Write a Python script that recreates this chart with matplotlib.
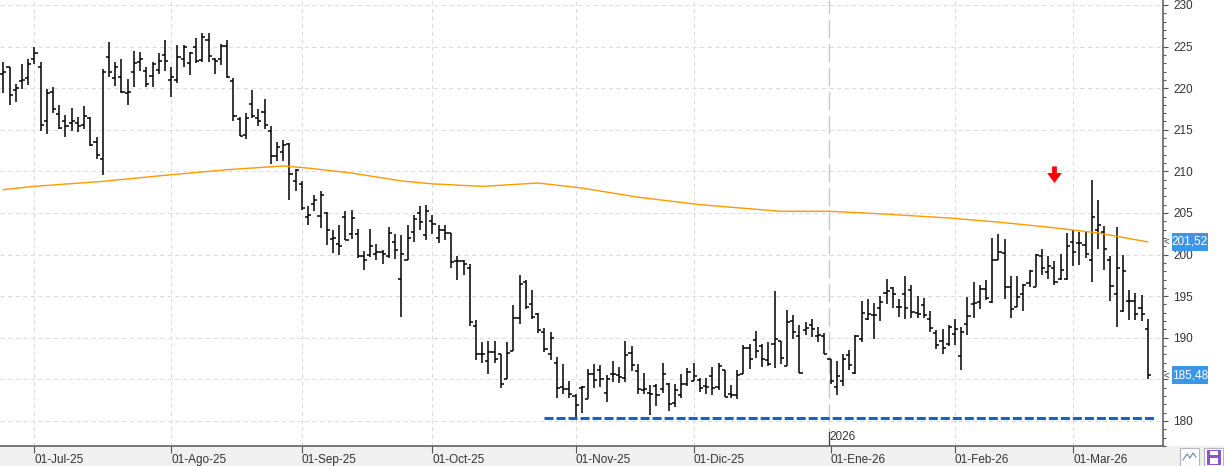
import pandas as pd
import matplotlib
matplotlib.use("Agg")
import matplotlib.pyplot as plt
from matplotlib.collections import LineCollection
from matplotlib.patches import Rectangle
from matplotlib.ticker import MultipleLocator
import matplotlib.transforms as mtransforms

plt.rcParams['font.family'] = ['Liberation Sans', 'DejaVu Sans']

# daily bars, US trading days from 24-Jun-2025
start_date = "2025-06-24"
holidays = ["2025-07-04", "2025-09-01", "2025-11-27", "2025-12-25",
            "2026-01-01", "2026-01-19", "2026-02-16"]

opens = [221.7, 222.6, 219.8, 220.9, 221.2, 223.5, 222.6, 216.0, 219.5, 216.9,
         216.1, 215.8, 215.8, 215.6, 216.4, 213.5, 211.5, 223.8, 221.2, 221.4,
         219.4, 221.9, 223.2, 222.1, 221.5, 222.2, 224.0, 221.0, 221.0, 223.5,
         223.0, 224.9, 223.4, 225.8, 223.5, 223.5, 225.1, 220.9, 216.3, 214.4,
         218.1, 216.4, 217.1, 214.9, 211.9, 212.3, 213.3, 208.8, 208.5, 204.5,
         206.1, 204.6, 205.0, 201.9, 201.3, 204.5, 202.5, 202.5, 199.8, 199.9,
         200.1, 200.3, 199.8, 201.5, 197.1, 199.4, 202.7, 205.0, 202.4, 204.0,
         202.0, 203.0, 202.6, 199.2, 199.2, 198.4, 191.4, 188.0, 187.2, 188.3,
         188.0, 185.0, 188.4, 192.4, 196.7, 194.0, 192.9, 190.7, 188.1, 187.0,
         184.1, 183.9, 183.0, 184.0, 182.6, 185.6, 186.1, 183.4, 185.6, 185.5,
         185.2, 188.2, 186.0, 183.7, 183.4, 184.2, 183.8, 184.5, 182.1, 183.1,
         184.5, 184.8, 184.9, 184.2, 185.4, 184.1, 186.1, 183.2, 183.1, 185.6,
         188.8, 189.7, 189.0, 187.3, 189.2, 189.6, 186.6, 192.0, 190.2, 190.9,
         191.5, 190.2, 190.2, 187.5, 184.1, 184.8, 187.9, 185.8, 189.9, 192.3,
         192.7, 193.6, 195.4, 196.0, 193.7, 195.3, 195.7, 193.0, 193.9, 192.3,
         190.6, 189.6, 189.2, 190.5, 187.8, 191.7, 194.0, 194.3, 195.9, 194.3,
         199.4, 200.2, 196.1, 193.7, 195.3, 196.6, 196.1, 199.8, 197.9, 198.4,
         197.1, 197.1, 201.5, 201.4, 201.1, 199.4, 202.9, 202.7, 199.4, 195.3,
         193.2, 194.4, 194.4, 193.6, 191.0]
highs = [223.2, 222.6, 220.5, 222.9, 223.5, 225.0, 223.2, 219.9, 220.2, 218.0,
         216.8, 217.6, 216.5, 217.9, 216.5, 214.1, 222.3, 225.6, 223.2, 223.5,
         221.1, 224.5, 224.4, 222.6, 223.1, 224.2, 225.8, 222.6, 225.2, 225.2,
         224.4, 226.0, 226.6, 226.6, 223.6, 225.3, 225.8, 221.2, 216.5, 217.0,
         219.8, 217.5, 218.7, 215.4, 213.5, 213.8, 213.4, 210.3, 208.8, 205.8,
         207.2, 207.7, 205.1, 202.9, 203.5, 205.2, 205.4, 203.1, 200.4, 203.1,
         201.3, 200.6, 203.3, 202.5, 202.4, 203.6, 204.7, 205.8, 206.0, 204.8,
         203.5, 203.6, 202.6, 199.8, 199.4, 198.9, 192.1, 189.5, 189.6, 189.6,
         188.1, 189.5, 193.9, 197.6, 197.0, 195.8, 193.0, 191.2, 190.7, 187.7,
         186.8, 184.8, 183.2, 184.2, 186.3, 186.8, 186.7, 185.5, 187.2, 186.5,
         189.6, 189.0, 186.8, 185.8, 184.3, 184.4, 187.0, 184.6, 184.4, 185.6,
         186.4, 187.0, 185.2, 185.2, 186.5, 187.0, 186.1, 184.3, 186.1, 189.1,
         189.2, 190.8, 189.2, 189.5, 195.6, 189.6, 193.3, 192.7, 191.5, 191.9,
         192.2, 191.3, 190.6, 187.5, 187.2, 188.1, 188.5, 190.3, 194.4, 194.6,
         194.2, 195.0, 197.1, 196.1, 194.7, 197.4, 196.4, 195.0, 194.8, 193.2,
         190.9, 191.1, 191.5, 192.3, 191.3, 194.9, 196.7, 196.3, 196.9, 202.0,
         202.5, 201.9, 197.4, 197.4, 196.5, 198.1, 200.1, 200.7, 199.8, 199.2,
         200.1, 202.6, 202.9, 202.7, 202.7, 209.0, 206.5, 203.4, 199.8, 203.3,
         200.0, 195.7, 195.4, 195.2, 192.3]
lows = [219.4, 218.0, 218.3, 219.9, 220.4, 222.9, 214.8, 214.5, 217.0, 215.1,
        214.1, 214.9, 214.7, 215.1, 213.1, 211.5, 209.6, 221.3, 220.3, 219.4,
        218.0, 220.1, 222.1, 220.1, 220.1, 221.7, 222.1, 219.0, 220.6, 222.5,
        221.6, 223.0, 223.2, 223.2, 221.7, 222.8, 221.2, 216.1, 214.2, 213.9,
        216.4, 215.4, 215.1, 210.9, 211.3, 211.2, 206.5, 207.6, 205.3, 203.6,
        205.2, 203.2, 201.2, 200.2, 200.0, 201.8, 201.9, 199.6, 198.1, 199.7,
        199.4, 198.9, 199.6, 199.5, 192.5, 199.3, 201.5, 203.0, 201.7, 202.5,
        201.4, 201.7, 198.4, 197.0, 197.5, 191.4, 187.3, 187.0, 185.6, 187.0,
        184.0, 185.0, 188.4, 191.6, 193.4, 192.2, 190.6, 188.3, 187.3, 182.8,
        183.3, 182.7, 180.4, 181.0, 182.6, 184.0, 184.1, 182.3, 184.7, 184.6,
        184.7, 186.0, 183.2, 183.2, 180.7, 181.8, 183.4, 181.2, 181.7, 182.7,
        184.2, 184.8, 183.5, 183.2, 183.1, 183.7, 182.9, 182.7, 182.6, 185.6,
        186.2, 187.6, 186.5, 186.6, 186.4, 186.8, 186.6, 189.8, 185.8, 190.3,
        190.1, 189.5, 188.0, 184.4, 183.1, 184.2, 186.1, 185.6, 189.5, 192.1,
        189.8, 192.0, 194.0, 193.6, 192.5, 192.3, 192.4, 192.4, 192.4, 190.7,
        188.7, 188.0, 189.0, 189.1, 186.1, 190.3, 192.4, 193.5, 194.5, 194.2,
        199.3, 194.7, 192.4, 193.7, 193.2, 196.1, 196.1, 197.6, 197.1, 196.3,
        197.0, 196.9, 198.6, 198.7, 199.6, 196.7, 200.7, 198.1, 194.4, 191.3,
        193.1, 192.1, 192.1, 192.0, 185.0]
closes = [222.0, 219.2, 220.0, 221.0, 222.9, 224.2, 215.6, 219.4, 217.5, 215.2,
          215.5, 216.0, 215.4, 216.7, 213.2, 212.0, 221.9, 221.9, 222.5, 219.5,
          219.6, 223.0, 223.5, 220.5, 222.9, 223.3, 223.3, 221.4, 223.8, 225.0,
          224.2, 223.3, 226.2, 223.9, 223.3, 225.1, 221.3, 216.6, 214.2, 216.4,
          216.7, 216.0, 215.6, 211.9, 212.9, 213.2, 209.7, 210.2, 205.6, 204.8,
          206.5, 207.2, 203.0, 202.0, 201.0, 201.8, 204.4, 199.8, 199.4, 201.0,
          200.3, 200.1, 202.6, 200.6, 200.1, 202.0, 204.3, 203.9, 205.2, 203.7,
          203.0, 202.6, 199.1, 199.2, 198.9, 191.9, 188.1, 188.1, 188.3, 187.5,
          184.5, 188.2, 192.4, 196.5, 193.7, 192.5, 190.9, 188.7, 190.0, 184.0,
          183.9, 183.2, 181.9, 184.1, 185.7, 184.9, 185.0, 185.1, 185.7, 185.3,
          187.9, 186.7, 183.8, 183.8, 183.3, 183.1, 185.7, 182.0, 183.7, 184.5,
          185.9, 185.4, 184.0, 184.1, 184.0, 186.6, 182.9, 183.1, 185.5, 188.8,
          187.4, 188.4, 187.5, 186.9, 189.8, 187.6, 191.9, 190.7, 185.8, 191.2,
          191.0, 190.3, 188.0, 184.8, 185.4, 187.4, 186.7, 190.2, 193.0, 192.9,
          192.7, 194.3, 195.6, 195.3, 193.7, 193.6, 193.1, 192.9, 192.7, 191.2,
          189.1, 188.8, 191.3, 191.0, 190.7, 192.6, 194.2, 195.9, 194.8, 199.4,
          200.3, 196.1, 193.5, 194.9, 196.4, 198.0, 200.0, 198.4, 198.6, 196.7,
          198.2, 201.0, 200.3, 201.4, 200.1, 204.5, 203.5, 200.7, 196.2, 198.4,
          198.0, 194.4, 192.8, 192.9, 185.48]

# moving average read at a few bars
ma_idx = [0, 5, 16, 27, 36, 45, 49, 56, 64, 69, 77, 86, 93, 102, 112,
          125, 133, 141, 152, 160, 168, 176, 184]
ma_vals = [207.8, 208.2, 208.8, 209.6, 210.2, 210.65, 210.4, 209.8, 208.85,
           208.5, 208.2, 208.6, 208.0, 206.9, 206.0, 205.2, 205.2, 204.9,
           204.4, 203.9, 203.3, 202.6, 201.52]

month_labels = ["01-Jul-25", "01-Ago-25", "01-Sep-25", "01-Oct-25", "01-Nov-25",
                "01-Dic-25", "01-Ene-26", "01-Feb-26", "01-Mar-26"]
year_label = "2026"

support_level = 180.4
support_from = 87
support_to = 185
signal_idx = 169
signal_top = 210.6
signal_tip = 208.6

dates = pd.bdate_range(start_date, periods=len(closes), freq="C", holidays=holidays)
months = dates.month
month_pos = [i for i in range(1, len(dates)) if months[i] != months[i - 1]]
jan_pos = month_pos[month_labels.index("01-Ene-26")]

W, H = 1224, 466
fig = plt.figure(figsize=(W / 100, H / 100), dpi=100)
fig.patches.append(Rectangle((0, 0), 1, 20 / H, transform=fig.transFigure,
                             facecolor="#f0f0f0", edgecolor="none", zorder=-5))
ax = fig.add_axes([0, 20 / H, 1162.7 / W, 446 / H])
ax.set_xlim(-0.53, 186.4)
ax.set_ylim(176.99, 230.6)

# grid
for y in range(180, 231, 5):
    ax.axhline(y, color="#dcdcdc", lw=0.75, ls=(0, (4, 3.3)), zorder=1)
for p in month_pos:
    if p == jan_pos:
        continue
    ax.axvline(p, color="#dcdcdc", lw=0.75, ls=(0, (4, 3.3)), zorder=1)
ax.axvline(jan_pos - 0.3, color="#c8c8c8", lw=1.0, ls=(0, (13, 4.3)), zorder=1)

# OHLC bars
segs = []
for i in range(len(closes)):
    segs.append([(i, lows[i]), (i, highs[i])])
    segs.append([(i - 0.5, opens[i]), (i, opens[i])])
    segs.append([(i, closes[i]), (i + 0.5, closes[i])])
ax.add_collection(LineCollection(segs, colors="black", linewidths=1.1, zorder=3))

ax.plot(ma_idx, ma_vals, color="#ff9900", lw=1.0, zorder=4)
ax.plot([support_from, support_to], [support_level, support_level],
        color="#1066c8", lw=2.2, ls=(0, (2.95, 0.98)), zorder=4)
ax.arrow(signal_idx, signal_top, 0, signal_tip - signal_top, width=0.76,
         head_width=2.36, head_length=1.2, length_includes_head=True,
         fc="#ff0000", ec="none", zorder=5)

# axes styling
for s in ["left", "top"]:
    ax.spines[s].set_visible(False)
for s in ["right", "bottom"]:
    ax.spines[s].set_color("#555555")
    ax.spines[s].set_linewidth(1.1)
ax.yaxis.tick_right()
y_ticks = list(range(180, 231, 5))
ax.set_yticks(y_ticks)
# the 185 label sits under the last-price box
ax.set_yticklabels(["" if t == 185 else str(t) for t in y_ticks])
ax.yaxis.set_minor_locator(MultipleLocator(1))
ax.tick_params(axis="y", which="major", length=3.4, width=0.8, colors="#555555",
               labelcolor="#333333", labelsize=8.5, pad=4)
ax.tick_params(axis="y", which="minor", length=2, width=0.8, colors="#555555")
ax.set_xticks(month_pos)
ax.set_xticklabels(month_labels)
ax.tick_params(axis="x", length=5, width=0.8, colors="#555555",
               labelcolor="#333333", labelsize=8.5, pad=0.5)
for lbl in ax.get_xticklabels():
    lbl.set_horizontalalignment("left")

# year marker
trans = mtransforms.blended_transform_factory(ax.transData, ax.transAxes)
ax.plot([jan_pos - 0.3, jan_pos - 0.3], [0, 14 / 446], transform=trans,
        color="#444444", lw=0.9, zorder=6)
ax.text(jan_pos - 0.1, 3 / 446, year_label, transform=trans, fontsize=8.5,
        color="#333333", ha="left", va="bottom")

# last value labels on the price axis
ytrans = mtransforms.blended_transform_factory(ax.transAxes, ax.transData)
box_x0 = 1172 / 1162.7
box_w = 36 / 1162.7
box_h = 18 / 8.32
for val, txt in [(ma_vals[-1], "201,52"), (closes[-1], "185,48")]:
    ax.add_patch(Rectangle((box_x0, val - box_h / 2), box_w, box_h, transform=ytrans,
                           facecolor="#3d95e8", edgecolor="none", clip_on=False, zorder=7))
    ax.text(box_x0 + box_w / 2, val, txt, transform=ytrans, ha="center", va="center",
            fontsize=8.5, color="white", zorder=8, clip_on=False)
    ax.text(1163.5 / 1162.7, val, "<", transform=ytrans, ha="left", va="center",
            fontsize=7, color="#444444", zorder=8, clip_on=False)

# small toolbar buttons bottom right
fig.patches.append(Rectangle((1180 / W, 0), 19 / W, 18 / H, transform=fig.transFigure,
                             facecolor="white", edgecolor="#b0b8c8", lw=0.8))
fig.lines.append(plt.Line2D([1183 / W, 1187 / W, 1190 / W, 1193 / W, 1196 / W],
                            [6 / H, 12 / H, 8 / H, 13 / H, 9 / H],
                            transform=fig.transFigure, color="#6688aa", lw=0.8))
fig.patches.append(Rectangle((1204 / W, 0), 19 / W, 18 / H, transform=fig.transFigure,
                             facecolor="white", edgecolor="#b0b8c8", lw=0.8))
fig.patches.append(Rectangle((1207 / W, 1 / H), 14 / W, 15 / H, transform=fig.transFigure,
                             facecolor="#8a55c8", edgecolor="none"))
fig.patches.append(Rectangle((1210 / W, 2 / H), 8 / W, 6 / H, transform=fig.transFigure,
                             facecolor="white", edgecolor="none"))
fig.patches.append(Rectangle((1210 / W, 11 / H), 8 / W, 4 / H, transform=fig.transFigure,
                             facecolor="white", edgecolor="none"))

fig.savefig("out.png", dpi=100)
